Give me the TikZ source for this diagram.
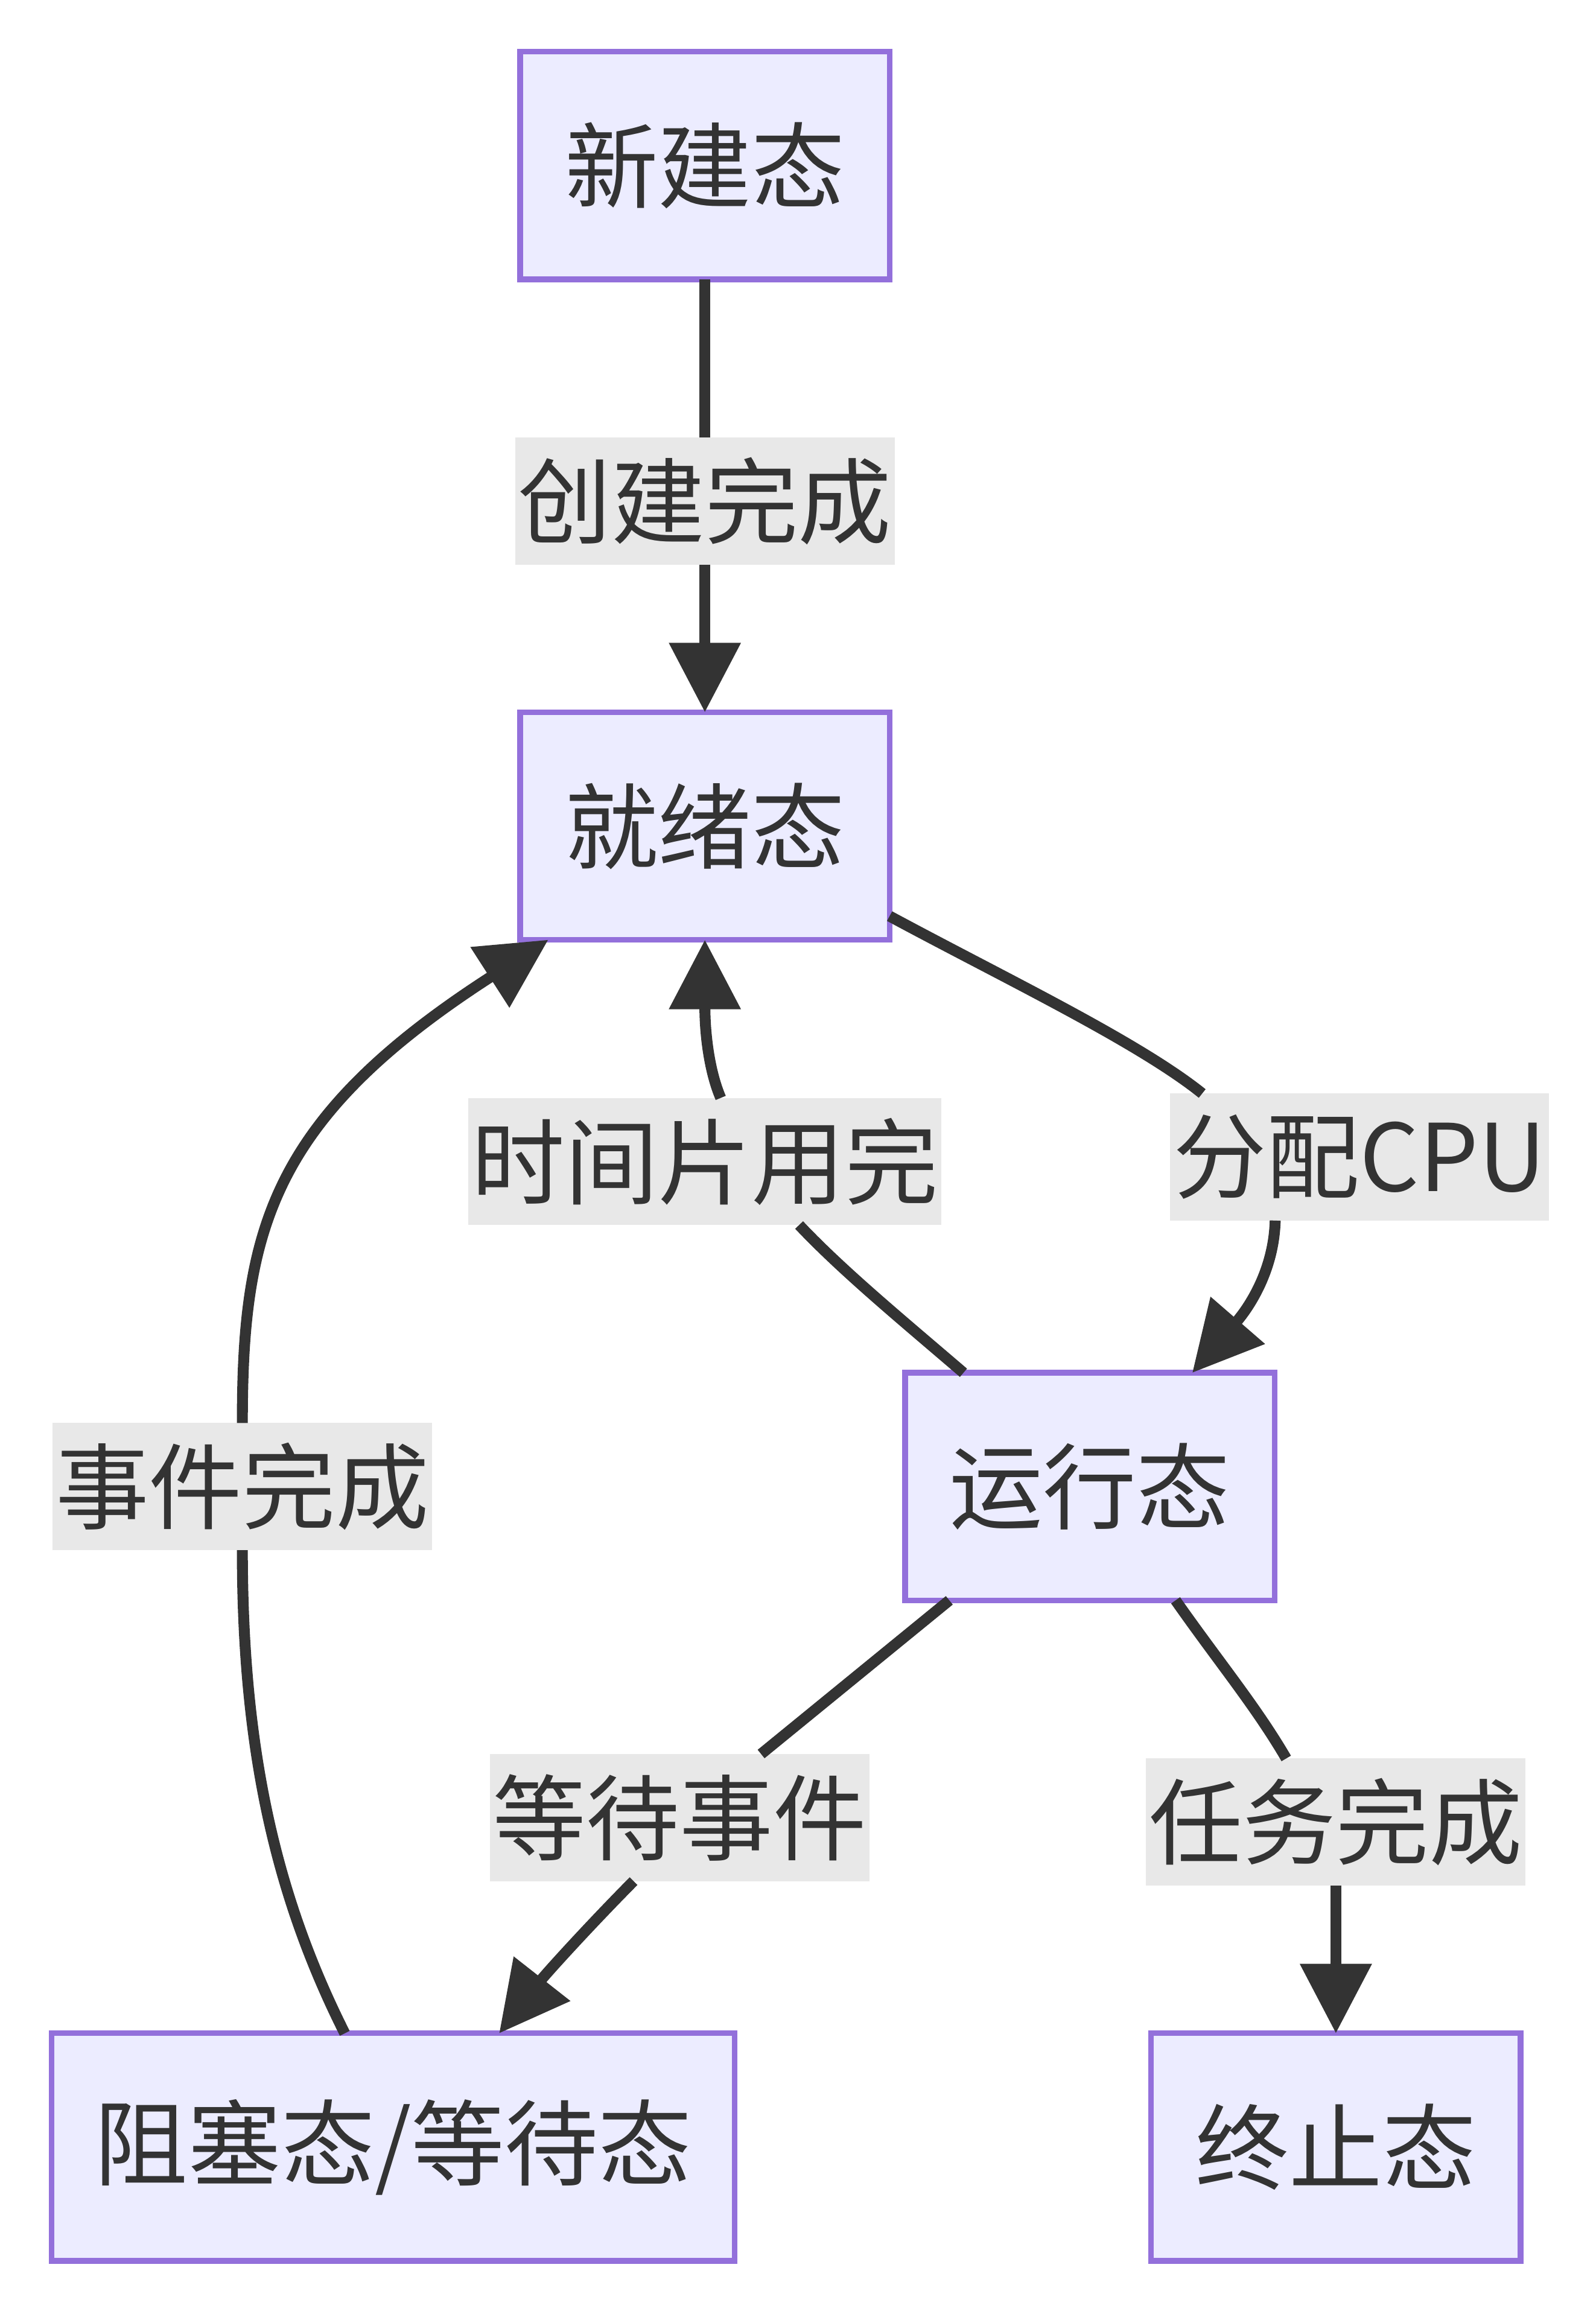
\documentclass[tikz,border=0pt]{standalone}
\usepackage{fontspec}
\newfontfamily\cjk{Noto Sans CJK SC}
\usetikzlibrary{arrows.meta}
\definecolor{c333333}{RGB}{51,51,51}
\definecolor{cececff}{RGB}{236,236,255}
\definecolor{c9370db}{RGB}{147,112,219}
\definecolor{ce8e8e8}{RGB}{232,232,232}

\begin{document}
\begin{tikzpicture}[y=0.50pt, x=0.50pt, yscale=-1, inner sep=0pt, outer sep=0pt,
  state/.style={draw=c9370db, fill=cececff, line width=1.9pt,
    minimum width=125pt, minimum height=77pt, text=c333333,
    font=\cjk\fontsize{31.6pt}{37pt}\selectfont},
  elabel/.style={fill=ce8e8e8, inner xsep=1pt, minimum height=43pt,
    text=c333333, font=\cjk\fontsize{31.6pt}{37pt}\selectfont},
  flow/.style={draw=c333333, line width=3.7pt},
  tip/.style={flow, -{Triangle[length=23.5pt,width=23.5pt]}}]
\useasboundingbox (0,0) rectangle (1080,1568);

  % states
  \node[state] (snew) at (477,112) {新建态};
  \node[state] (sready) at (477,559) {就绪态};
  \node[state] (srun) at (737.5,1006) {运行态};
  \node[state, minimum width=231pt] (sblock) at (266,1453) {阻塞态/等待态};
  \node[state] (send) at (904,1453) {终止态};

  % edge labels
  \node[elabel] (lcreate) at (477,339) {创建完成};
  \node[elabel] (lslice) at (477,786) {时间片用完};
  \node[elabel] (lcpu) at (920,783) {分配CPU};
  \node[elabel] (levent) at (164,1006) {事件完成};
  \node[elabel] (lwait) at (460,1230) {等待事件};
  \node[elabel] (ldone) at (904,1233) {任务完成};

  % transitions
  \draw[flow] (snew) -- (lcreate);
  \draw[tip] (lcreate) -- (sready);
  \draw[flow] (sready.-26.7) .. controls (680,662) and (770,705) .. (lcpu.158.6);
  \draw[tip] (lcpu.-143.4) .. controls (862,860) and (845,885) .. (srun.48.8);
  \draw[flow] (srun.138.7) .. controls (610,893) and (570,860) .. (lslice.-34.3);
  \draw[tip] (lslice.76.9) .. controls (480,725) and (477,700) .. (sready.south);
  \draw[flow] (srun.-141.1) -- (lwait.38);
  \draw[tip] (lwait.-126.7) .. controls (400,1302) and (370,1335) .. (sblock.47.3);
  \draw[flow] (srun.-53.3) .. controls (825,1125) and (850,1155) .. (ldone.128.3);
  \draw[tip] (ldone.south) .. controls (904,1300) and (904,1330) .. (send.north);
  \draw[flow] (sblock.113.8) .. controls (185,1280) and (164,1180) .. (levent.south);
  \draw[tip] (levent.north) .. controls (164,833) and (183,757) .. (sready.-144.8);
\end{tikzpicture}
\end{document}
